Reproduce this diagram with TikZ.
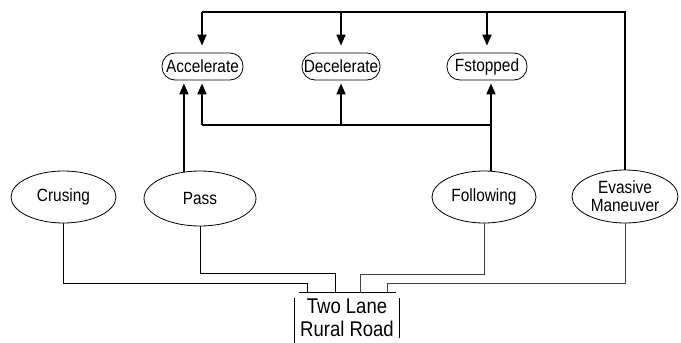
\documentclass[tikz,border=0pt]{standalone}
\usepackage{fontspec}
\setmainfont{Liberation Sans}
\usetikzlibrary{shapes.geometric,arrows.meta}
\newcommand\tallt[1]{\scalebox{1}[1.15]{#1}}
\begin{document}
\begin{tikzpicture}[x=1pt,y=-1pt,
  lbl/.style={font=\fontsize{15.4}{18}\selectfont, inner sep=0pt, align=center},
  act/.style={lbl, draw, line width=0.8pt, rounded corners=13pt, minimum height=27pt},
  beh/.style={lbl, draw, line width=0.8pt, ellipse, inner sep=0pt},
  thin/.style={line width=0.8pt},
  thickline/.style={line width=1.8pt},
  arr/.style={thickline, -{Triangle[length=11pt,width=9pt]}}
]
\useasboundingbox (0,0) rectangle (681,343);
% action nodes
\node[act, minimum width=81pt] (acc) at (202.5,66.5) {\tallt{Accelerate}};
\node[act, minimum width=78pt] (dec) at (341,66.5) {\tallt{Decelerate}};
\node[act, minimum width=80pt] (fst) at (487,66.5) {\tallt{Fstopped}};
% behaviour ellipses
\node[beh, minimum width=105pt, minimum height=52pt] (cru) at (63.5,197) {\tallt{Crusing}};
\node[beh, minimum width=112pt, minimum height=55pt] (pass) at (200,198.5) {\tallt{Pass}};
\node[beh, minimum width=104pt, minimum height=52pt] (fol) at (484,197) {\tallt{Following}};
\node[beh, minimum width=106pt, minimum height=53pt] (eva) at (625,196.5) {\tallt{Evasive}\\\tallt{Maneuver}};
% road
\node[lbl, font=\fontsize{18.5}{23}\selectfont, minimum width=104pt, minimum height=50pt] (road) at (347,318) {\tallt{Two Lane}\\\tallt{Rural Road}};
\draw[thin] ([xshift=4pt]road.north west) -- ([xshift=-3pt]road.north east);
\draw[thin] ([yshift=-5pt]road.north west) -- (road.south west);
\draw[thin] ([yshift=-5pt]road.north east) -- ([yshift=5pt]road.south east);
% connectors to road
\draw[thin] (cru.south) -- ++(0,60) -| ([xshift=13pt]road.north west);
\draw[thin] (pass.south) -- ++(0,47) -| ([xshift=41pt]road.north west);
\draw[thin, black!75] (fol.south) -- ++(0,51) -| ([xshift=66pt]road.north west);
\draw[thin, black!75] (eva.south) -- ++(0,60) -| ([xshift=93pt]road.north west);
% top bus
\coordinate (tl) at (202,12);
\draw[thickline] (eva.north) |- (tl);
\draw[arr, shorten >=7pt] (tl) -- (acc.north -| tl);
\draw[arr, shorten >=7pt] (dec.north |- tl) -- (dec.north);
\draw[arr, shorten >=7pt] (fst.north |- tl) -- (fst.north);
% bottom bus
\coordinate (bl) at (202,125);
\draw[arr, shorten >=3pt] (pass.121) -- (pass.121 |- acc.south);
\draw[arr, shorten >=3pt] (fol.75) -- (fol.75 |- fst.south);
\draw[thickline] (fol.75 |- bl) -- (bl);
\draw[arr, shorten >=3pt] (bl) -- (bl |- acc.south);
\draw[arr, shorten >=3pt] (dec.south |- bl) -- (dec.south);
\end{tikzpicture}
\end{document}
